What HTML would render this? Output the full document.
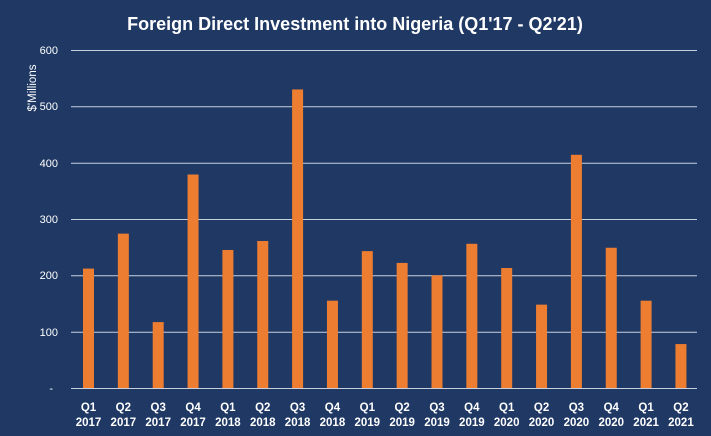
<!DOCTYPE html>
<html><head><style>
body{margin:0;background:#1f3864;}
svg{display:block;font-family:"Liberation Sans",sans-serif;}
</style></head><body>
<svg width="711" height="436" xmlns="http://www.w3.org/2000/svg">
<rect width="711" height="436" fill="#1f3864"/>
<text x="355" y="30" text-anchor="middle" fill="#fff" font-size="18" font-weight="bold">Foreign Direct Investment into Nigeria (Q1'17 - Q2'21)</text>
<text transform="translate(36,88) rotate(-90)" fill="#fff" font-size="11.5" text-anchor="middle">$'Millions</text>
<g stroke="#c8cfdc" stroke-width="1">
<line x1="71" x2="697" y1="50.5" y2="50.5"/>
<line x1="71" x2="697" y1="106.8" y2="106.8"/>
<line x1="71" x2="697" y1="163.2" y2="163.2"/>
<line x1="71" x2="697" y1="219.5" y2="219.5"/>
<line x1="71" x2="697" y1="275.8" y2="275.8"/>
<line x1="71" x2="697" y1="332.2" y2="332.2"/>
<line x1="71" x2="697" y1="388.5" y2="388.5"/>
</g>
<g fill="#fff" font-size="11" text-anchor="end">
<text x="58" y="54">600</text><text x="58" y="110">500</text><text x="58" y="167">400</text>
<text x="58" y="223">300</text><text x="58" y="279">200</text><text x="58" y="336">100</text><text x="53" y="392">-</text>
</g>
<g id="bars" fill="#ed7d31"></g>
<g id="labels" fill="#fff" font-size="11.5" font-weight="bold" text-anchor="middle"></g>
</svg>
<script>
var v=[212,274,117,379,245,261,530,155,243,222,200,256,213,148,414,249,155,78];
var b=document.getElementById('bars'),l=document.getElementById('labels'),ns='http://www.w3.org/2000/svg';
v.forEach(function(d,i){var cx=88.5+i*34.85;var h=d*0.5633;
var r=document.createElementNS(ns,'rect');r.setAttribute('x',cx-5.5);r.setAttribute('width',11);r.setAttribute('y',388-h);r.setAttribute('height',h);b.appendChild(r);
var q=document.createElementNS(ns,'text');q.setAttribute('x',cx);q.setAttribute('y',411);q.textContent='Q'+(i%4+1);l.appendChild(q);
var y=document.createElementNS(ns,'text');y.setAttribute('x',cx);y.setAttribute('y',426);y.textContent=2017+Math.floor(i/4);l.appendChild(y);});
</script>
</body></html>
